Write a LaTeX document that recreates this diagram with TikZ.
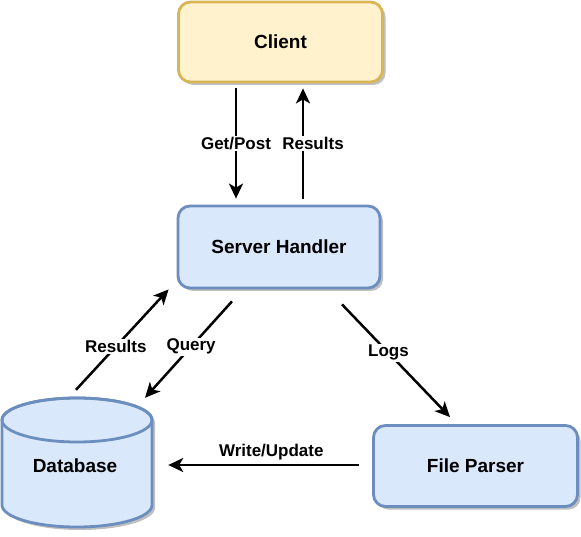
\documentclass[tikz,border=0pt]{standalone}
\usepackage{fontspec}
\setmainfont{Liberation Sans}
\usetikzlibrary{arrows.meta,shadows}
\definecolor{yelfill}{HTML}{FFF2CC}
\definecolor{yelline}{HTML}{D6B656}
\definecolor{bluefill}{HTML}{DAE8FC}
\definecolor{blueline}{HTML}{6C8EBF}
\tikzset{
  boxbase/.style={rectangle, rounded corners=12pt, line width=2.8pt,
    font=\fontsize{19}{22}\selectfont\bfseries,
    drop shadow={shadow xshift=3pt, shadow yshift=-3pt, fill=black, opacity=0.25}},
  yellowbox/.style={boxbase, draw=yelline, fill=yelfill},
  bluebox/.style={boxbase, draw=blueline, fill=bluefill},
  arr/.style={line width=2.5pt, -{Stealth[length=15pt, width=14pt, inset=4pt]}},
  lbl/.style={fill=white, inner sep=1.5pt, font=\fontsize{17}{19}\selectfont\bfseries},
}
\begin{document}
\begin{tikzpicture}[x=1pt, y=-1pt]
\useasboundingbox (0,0) rectangle (581,537);

% boxes
\node[yellowbox, minimum width=204pt, minimum height=80pt] (client) at (280.5,42) {Client};
\node[bluebox, minimum width=202pt, minimum height=82pt] (server) at (279,247) {Server Handler};
\node[bluebox, minimum width=204pt, minimum height=81pt] (parser) at (475.5,466) {File Parser};

% database cylinder
\fill[black, opacity=0.25, xshift=3pt, yshift=-3pt]
  (2,420) -- (2,505) arc[start angle=180, end angle=0, x radius=75, y radius=22]
  -- (152,420) arc[start angle=0, end angle=-180, x radius=75, y radius=22] -- cycle;
\path[draw=blueline, fill=bluefill, line width=2.8pt]
  (2,420) -- (2,505) arc[start angle=180, end angle=0, x radius=75, y radius=22]
  -- (152,420) arc[start angle=0, end angle=-180, x radius=75, y radius=22] -- cycle;
\draw[blueline, line width=2.8pt] (77,420) ellipse[x radius=75, y radius=22];
\node[minimum width=150pt, minimum height=129pt, inner sep=0pt] (db) at (77,462.5) {};
\node[font=\fontsize{19}{22}\selectfont\bfseries] (dblabel) at (75,466) {Database};

% connectors
\draw[arr] ([xshift=-44.5pt, yshift=-5pt]client.south) -- ([xshift=-43pt, yshift=6pt]server.north)
  node[lbl, pos=0.5] {Get/Post};
\draw[arr] ([xshift=24pt, yshift=6pt]server.north) -- ([xshift=22.5pt, yshift=-5pt]client.south)
  node[lbl, pos=0.5, xshift=10pt] {Results};
\draw[arr] ([xshift=-47pt, yshift=-12pt]server.south) -- ([xshift=68pt]db.north)
  node[lbl, pos=0.47] {Query};
\draw[arr] ([xshift=-1pt, yshift=8pt]db.north) -- ([xshift=-8pt]server.south west)
  node[lbl, pos=0.43] {Results};
\draw[arr] ([xshift=63pt, yshift=-15pt]server.south) -- ([xshift=-25.5pt, yshift=7pt]parser.north)
  node[lbl, pos=0.43] {Logs};
\draw[arr] ([xshift=-13pt, yshift=1pt]parser.west) -- ([xshift=16pt, yshift=-2.5pt]db.east)
  node[lbl, pos=0.46, yshift=13pt, fill=none] {Write/Update};
\end{tikzpicture}
\end{document}
